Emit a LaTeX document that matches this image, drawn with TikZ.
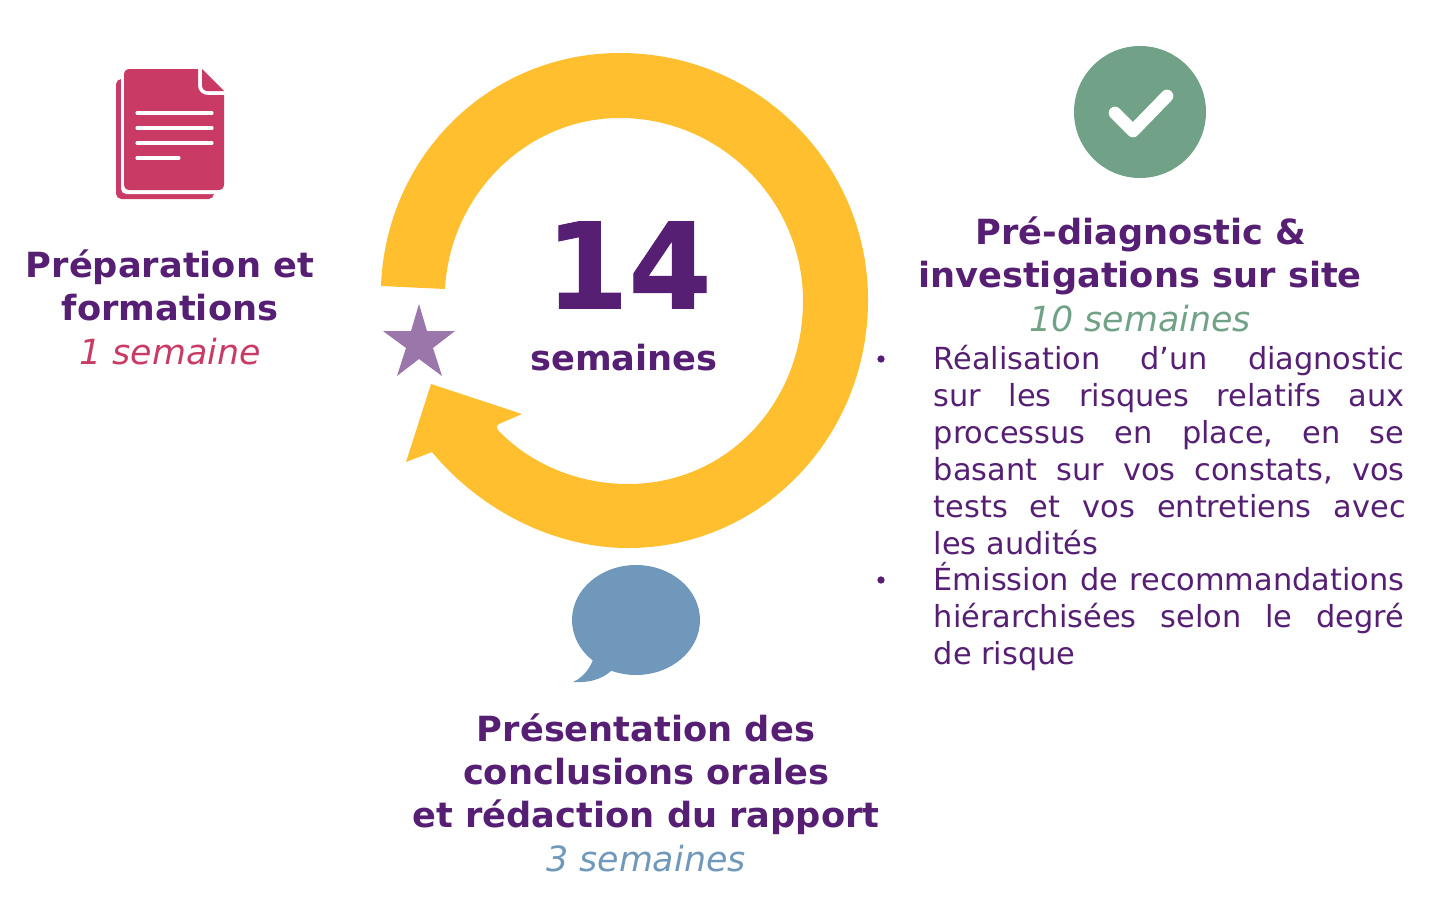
\documentclass[tikz,border=0pt]{standalone}
\usepackage{fontspec}
\setmainfont{DejaVu Sans}
\newfontfamily\headfont[FakeStretch=1.016]{DejaVu Sans Bold}
\newfontfamily\numfont[FakeBold=0.8]{DejaVu Sans Bold}
\newfontfamily\bodyfont{DejaVu Sans}
\newfontfamily\italfont[FakeStretch=1.005]{DejaVu Sans Oblique}
\definecolor{sun}{HTML}{FFBF2E}
\definecolor{plum}{HTML}{561F74}
\definecolor{rose}{HTML}{C93B65}
\definecolor{sage}{HTML}{71A288}
\definecolor{steel}{HTML}{7098BA}
\definecolor{mauve}{HTML}{9B76AB}
\tikzset{
  x=0.75pt,y=-0.75pt,
  heading/.style={text=plum,inner sep=0pt,anchor=base,font=\headfont\fontsize{26}{32}\selectfont},
  duration/.style={inner sep=0pt,anchor=base,font=\italfont\fontsize{26}{32}\selectfont},
  bodytext/.style={text=plum,inner sep=0pt,anchor=base west,font=\bodyfont\fontsize{22.8}{27.75}\selectfont},
  bulletmark/.style={circle,fill=plum,inner sep=0pt,minimum size=5.5pt},
  pageline/.style={draw=white,line width=2.3pt,line cap=round},
}
\begin{document}
\begin{tikzpicture}
\useasboundingbox (0,0) rectangle (1444,910);
% ring arrow
\fill[sun] (381,286)
  .. controls (386,155) and (490,53) .. (620,53)
  .. controls (757,53) and (868,163) .. (868,300)
  .. controls (868,437) and (762,548) .. (628,548)
  .. controls (553,548) and (479,509) .. (432,452)
  -- (406,462) -- (431,384) -- (522,414) -- (499,424)
  .. controls (496,426) and (496,428) .. (498,430)
  .. controls (530,464) and (578,484) .. (628,484)
  .. controls (728,484) and (803,402) .. (803,301)
  .. controls (803,200) and (720,118) .. (620,118)
  .. controls (526,118) and (450,195) .. (445,289) -- cycle;
% star
\fill[mauve] (419,304) -- (427,331) -- (455,331) -- (433,348) -- (442,376) -- (419,359) -- (397,376) -- (406,348) -- (383,331) -- (411,331) -- cycle;
% document icon
\fill[rose,rounded corners=4pt] (116,79) -- (214,79) -- (214,199) -- (116,199) -- cycle;
\fill[white,rounded corners=4pt] (121,64) -- (229,64) -- (229,194) -- (121,194) -- cycle;
\fill[rose] (130,69)
  .. controls (126,69) and (124,71) .. (124,75) -- (124,184)
  .. controls (124,188) and (126,190) .. (130,190) -- (218,190)
  .. controls (222,190) and (224,188) .. (224,184) -- (224,95) -- (208,95)
  .. controls (202,95) and (198,91) .. (198,85) -- (198,69) -- cycle;
\fill[rose] (202,69) -- (224,91) -- (208,91)
  .. controls (204,91) and (202,89) .. (202,85) -- cycle;
\coordinate (lineA) at (137,113); \coordinate (lineAe) at (212,113);
\coordinate (lineB) at (137,128); \coordinate (lineBe) at (212,128);
\coordinate (lineC) at (137,143); \coordinate (lineCe) at (212,143);
\coordinate (lineD) at (137,158); \coordinate (lineDe) at (179,158);
\draw[pageline] (lineA) -- (lineAe);
\draw[pageline] (lineB) -- (lineBe);
\draw[pageline] (lineC) -- (lineCe);
\draw[pageline] (lineD) -- (lineDe);
% check icon
\fill[sage] (1140,112) circle[radius=66];
\coordinate (chkA) at (1115,113); \coordinate (chkB) at (1133,131); \coordinate (chkC) at (1167,96);
\draw[white,line width=9.5pt,line cap=round,line join=round] (chkA) -- (chkB) -- (chkC);
% speech bubble
\fill[steel] (636,620) circle[x radius=64,y radius=55];
\fill[steel] (593,655) -- (593,660) .. controls (589,670) and (582,678) .. (573,682)
  .. controls (587,683) and (601,680) .. (611,671) -- (625,660) -- cycle;
% left text
\node[heading] (prepA) at (170,277.5) {Préparation et};
\node[heading] (prepB) at (170,320.5) {formations};
\node[duration,text=rose] (prepC) at (170,364) {1 semaine};
% centre
\node[inner sep=0pt,anchor=base,text=plum,font=\numfont\fontsize{89.5}{90}\selectfont] (total) at (628.5,308.5) {14};
\node[inner sep=0pt,anchor=base,text=plum,font=\headfont\fontsize{26}{32}\selectfont] (weeks) at (624,370) {semaines};
% right text
\node[heading] (diagA) at (1141,244.5) {Pré-diagnostic \&};
\node[heading] (diagB) at (1140,287.5) {investigations sur site};
\node[duration,text=sage] (diagC) at (1140,331) {10 semaines};
\node[bulletmark] (bulA) at (881,359) {};
\node[bulletmark] (bulB) at (881,580) {};
\node[bodytext] (l1) at (933.5,369) {\hbox to 353pt{Réalisation\hfill d’un\hfill diagnostic}};
\node[bodytext] (l2) at (933.5,406) {\hbox to 353pt{sur\hfill les\hfill risques\hfill relatifs\hfill aux}};
\node[bodytext] (l3) at (933.5,443) {\hbox to 353pt{processus\hfill en\hfill place,\hfill en\hfill se}};
\node[bodytext] (l4) at (933.5,480) {\hbox to 353pt{basant\hfill sur\hfill vos\hfill constats,\hfill vos}};
\node[bodytext] (l5) at (933.5,517) {\hbox to 354pt{tests\hfill et\hfill vos\hfill entretiens\hfill avec}};
\node[bodytext] (l6) at (933.5,554) {les audités};
\node[bodytext] (l7) at (933.5,590) {\hbox to 353pt{Émission\hfill de\hfill recommandations}};
\node[bodytext] (l8) at (933.5,627) {\hbox to 353pt{hiérarchisées\hfill selon\hfill le\hfill degré}};
\node[bodytext] (l9) at (933.5,664) {de risque};
% bottom text
\node[heading] (presA) at (646,741.5) {Présentation des};
\node[heading] (presB) at (646,784.5) {conclusions orales};
\node[heading] (presC) at (646,827.5) {et rédaction du rapport};
\node[duration,text=steel] (presD) at (646,871) {3 semaines};
\end{tikzpicture}
\end{document}
